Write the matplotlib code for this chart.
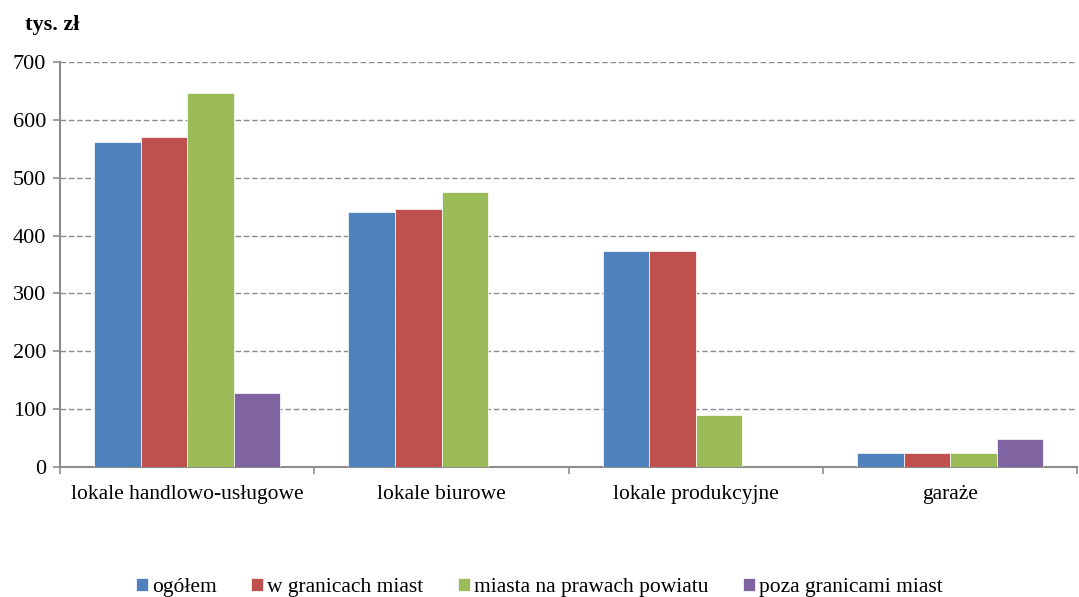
import matplotlib.pyplot as plt
import numpy as np

categories = ['lokale handlowo-usługowe', 'lokale biurowe', 'lokale produkcyjne', 'garaże']
series = ['ogółem', 'w granicach miast', 'miasta na prawach powiatu', 'poza granicami miast']
ogolem = [561, 441, 374, 25]
w_granicach = [570, 446, 374, 25]
miasta_npp = [646, 476, 90, 25]
poza_granicami = [128, 0, 0, 49]
colors = ['#4f81bd', '#c0504d', '#9bbb59', '#8064a2']

plt.rcParams['font.family'] = ['Liberation Serif', 'DejaVu Serif']

fig = plt.figure(figsize=(10.79, 5.97), dpi=100)
ax = fig.add_axes([0.0556, 0.2178, 0.943, 0.6784])

x = np.arange(len(categories))
w = 0.183
values = [ogolem, w_granicach, miasta_npp, poza_granicami]
for i, (vals, c, name) in enumerate(zip(values, colors, series)):
    ax.bar(x + (i - 1.5) * w, vals, w, color=c, label=name,
           edgecolor='white', linewidth=0.5, zorder=3)

ax.set_xlim(-0.5, 3.5)
ax.set_ylim(0, 700)
ax.set_yticks(range(0, 701, 100))
ax.yaxis.grid(True, linestyle=(0, (4, 2)), color='#8c8c8c', linewidth=1)
ax.set_axisbelow(True)

ax.set_xticks(x)
ax.set_xticklabels(categories, fontsize=15.5)
ax.tick_params(axis='x', length=0, pad=13)
ax.set_xticks(np.arange(-0.5, 4, 1), minor=True)
ax.tick_params(axis='x', which='minor', length=5, color='#8c8c8c', width=1.2)
ax.tick_params(axis='y', labelsize=16, length=5, color='#8c8c8c', width=1.2, pad=5)

for s in ['top', 'right']:
    ax.spines[s].set_visible(False)
for s in ['left', 'bottom']:
    ax.spines[s].set_color('#8c8c8c')
    ax.spines[s].set_linewidth(1.5)

fig.text(0.023, 0.975, 'tys. zł', fontsize=16, fontweight='bold', va='top')

fig.legend(loc='lower center', bbox_to_anchor=(0.5, -0.032), ncol=4, frameon=False,
           fontsize=15.5, handlelength=0.55, handleheight=0.55, handletextpad=0.2,
           columnspacing=1.6)

fig.savefig('out.png', dpi=100)
